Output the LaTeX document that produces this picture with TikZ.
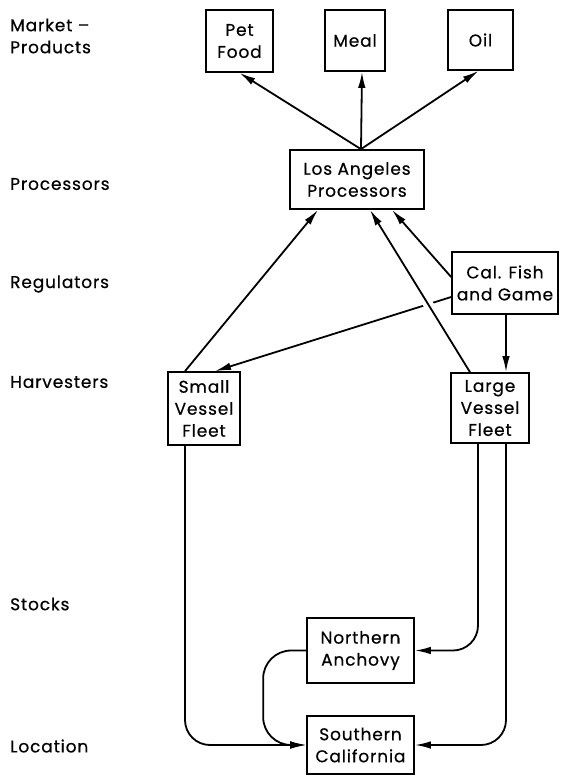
\documentclass[tikz,border=0pt]{standalone}
\usepackage{fontspec}
\setmainfont{Poppins}[LetterSpace=5,FakeBold=0.5]
\usetikzlibrary{arrows.meta}
\begin{document}
\begin{tikzpicture}[x=1pt,y=-1pt,
  txt/.style={font=\fontsize{17}{22}\selectfont},
  box/.style={draw, line width=1.7pt, align=center, inner sep=0pt, txt},
  lab/.style={anchor=west, align=left, inner sep=0pt, txt},
  arr/.style={line width=1.8pt, -{Latex[length=16pt,width=7.5pt]}}]
\useasboundingbox (0,0) rectangle (561,777);
% row labels
\node[lab] (lmarket) at (10,36) {Market --\\Products};
\node[lab] (lproc) at (10,184) {Processors};
\node[lab] (lreg) at (10,284) {Regulators};
\node[lab] (lharv) at (10,382) {Harvesters};
\node[lab] (lstock) at (10,604) {Stocks};
\node[lab] (lloc) at (10,746) {Location};
% boxes
\node[box, minimum width=67pt, minimum height=62pt] (pet) at (239.5,41) {Pet\\Food};
\node[box, minimum width=60pt, minimum height=61pt] (meal) at (355,40.5) {Meal};
\node[box, minimum width=65pt, minimum height=60pt] (oil) at (480.5,40) {Oil};
\node[box, minimum width=134pt, minimum height=59pt] (proc) at (357,179.5) {Los Angeles\\Processors};
\node[box, minimum width=106pt, minimum height=62pt] (cal) at (505,283) {Cal. Fish\\and Game};
\node[box, minimum width=72pt, minimum height=73pt] (small) at (204,408.5) {Small\\Vessel\\Fleet};
\node[box, minimum width=78pt, minimum height=70pt] (large) at (490,408) {Large\\Vessel\\Fleet};
\node[box, minimum width=107pt, minimum height=65pt] (north) at (360.5,650.5) {Northern\\Anchovy};
\node[box, minimum width=107pt, minimum height=58pt] (south) at (360.5,745) {Southern\\California};
% processors to products
\draw[arr] ([xshift=4pt]proc.north) -- (pet.south);
\draw[arr] ([xshift=4pt]proc.north) -- ([xshift=7pt]meal.south);
\draw[arr] ([xshift=4pt]proc.north) -- ([xshift=-2pt]oil.south);
% regulator to small fleet (broken where it crosses)
\draw[arr] ([yshift=-14pt]cal.west) -- ([xshift=11pt]small.north);
% fleets to processors
\draw[arr] ([xshift=-19pt]small.north) -- ([xshift=-39pt]proc.south);
\draw[arr, preaction={draw=white, line width=10pt, -, shorten <=60pt, shorten >=60pt}] ([xshift=-20pt]large.north) -- ([xshift=13pt]proc.south);
\draw[arr] ([yshift=6pt]cal.west) -- ([xshift=35pt]proc.south);
% regulator to large fleet
\draw[arr] ([xshift=1pt]cal.south) -- ([xshift=16pt]large.north);
% fleets to stocks / location
\draw[arr, rounded corners=25pt] ([xshift=-12pt]large.south) |- (north.east);
\draw[arr, rounded corners=25pt] ([xshift=16pt]large.south) |- (south.east);
\draw[arr, rounded corners=25pt] ([xshift=-19pt]small.south) |- (south.west);
\draw[arr, rounded corners=28pt] (north.west) -- ++(-43,0) |- (south.west);
\end{tikzpicture}
\end{document}
